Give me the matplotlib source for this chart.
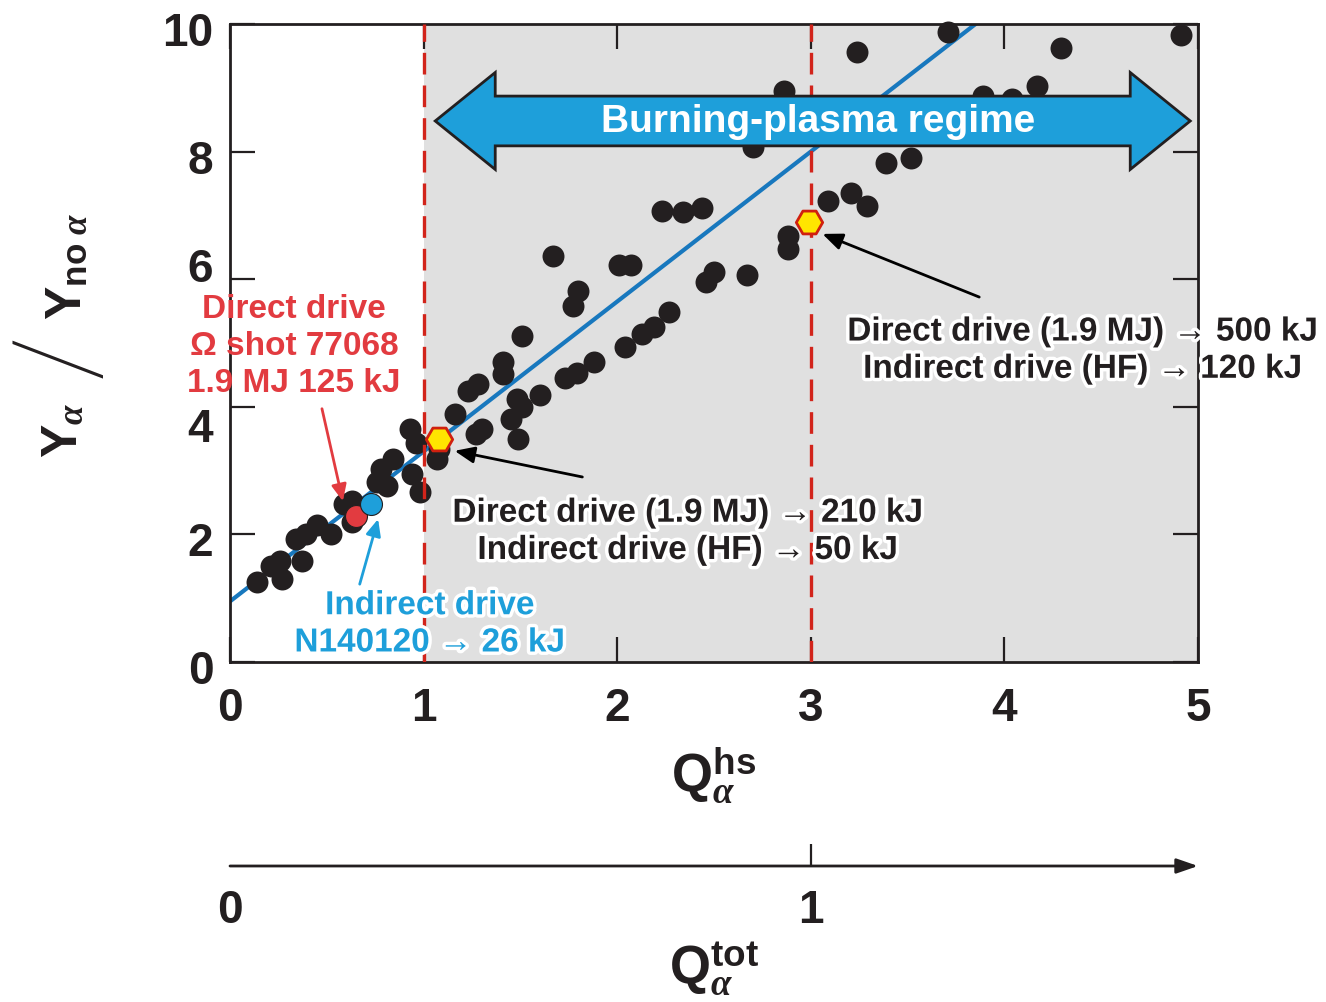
import matplotlib
matplotlib.use('Agg')
import matplotlib.pyplot as plt
import matplotlib.patheffects as pe
import matplotlib.transforms as mtransforms
from matplotlib.patches import Polygon
import numpy as np

plt.rcParams['font.family'] = ['Liberation Sans', 'DejaVu Sans']
plt.rcParams['font.weight'] = 'bold'
plt.rcParams['mathtext.fontset'] = 'custom'
plt.rcParams['mathtext.rm'] = 'Liberation Sans:bold'
plt.rcParams['mathtext.bf'] = 'Liberation Sans:bold'
plt.rcParams['mathtext.it'] = 'Liberation Serif:italic'

# ---------------- data ----------------
q_hs = [0.14, 0.21, 0.26, 0.27, 0.34, 0.37, 0.39, 0.45, 0.52, 0.59, 0.63, 0.63,
        0.76, 0.78, 0.81, 0.84, 0.93, 0.94, 0.98, 0.96, 1.07, 1.08,
        1.16, 1.23, 1.28, 1.27, 1.30, 1.41, 1.41, 1.51, 1.48, 1.51, 1.45, 1.49,
        1.60, 1.67, 1.73, 1.79, 1.88, 1.77, 1.80, 2.01, 2.07, 2.04, 2.13, 2.19,
        2.27, 2.23, 2.34, 2.44, 2.46, 2.50, 2.67,
        2.86, 2.70, 3.24, 3.71, 3.89, 4.04, 4.17, 4.29, 4.91, 3.09, 3.21, 3.29,
        3.39, 3.52, 2.88, 2.88]
y_ratio = [1.25, 1.51, 1.58, 1.30, 1.93, 1.59, 2.00, 2.14, 2.00, 2.48, 2.53, 2.19,
           2.82, 3.02, 2.76, 3.18, 3.65, 2.95, 2.66, 3.44, 3.18, 3.34,
           3.89, 4.25, 4.36, 3.57, 3.65, 4.70, 4.51, 5.11, 4.12, 4.00, 3.81, 3.50,
           4.18, 6.36, 4.45, 4.53, 4.70, 5.58, 5.82, 6.22, 6.22, 4.94, 5.14, 5.25,
           5.49, 7.07, 7.05, 7.12, 5.95, 6.11, 6.06,
           8.95, 8.07, 9.56, 9.87, 8.87, 8.82, 9.03, 9.62, 9.83, 7.23, 7.35, 7.15,
           7.82, 7.90, 6.68, 6.47]

omega_shot = (0.65, 2.29)        # Direct drive, Omega shot 77068
nif_shot = (0.73, 2.48)          # Indirect drive N140120
projected_q = [1.08, 2.99]       # hexagon projections
projected_y = [3.50, 6.90]

fit_intercept = 0.95
fit_slope = 2.35

regime_bounds = [1.0, 3.0]
xticks = [0, 1, 2, 3, 4, 5]
yticks = [0, 2, 4, 6, 8, 10]
qtot_per_qhs = 1.0 / 3.0
qtot_ticks = [0, 1]

# ---------------- styling ----------------
BLACK = '#231f20'
GREY = '#e0e0e0'
RED = '#d2241b'
TXT_RED = '#e23b40'
BLUE_LINE = '#1878be'
BLUE = '#1e9fda'
YELLOW = '#ffe500'

W, H = 1326, 1003
fig = plt.figure(figsize=(W / 100, H / 100), dpi=100)
ax = fig.add_axes([230 / W, 1 - 663 / H, 968 / W, 638 / H])
ax.set_xlim(0, 5)
ax.set_ylim(0, 10)

ax.axvspan(regime_bounds[0], 5, color=GREY, zorder=0, lw=0)

xx = np.array([0, 5])
ax.plot(xx, fit_intercept + fit_slope * xx, color=BLUE_LINE, lw=3, zorder=2,
        solid_capstyle='butt')

ax.scatter(q_hs, y_ratio, s=250, color=BLACK, zorder=3, lw=0, clip_on=False)

for xb in regime_bounds:
    ax.axvline(xb, color=RED, lw=2.4, dashes=(6.5, 3.3), zorder=4)

ax.scatter([omega_shot[0]], [omega_shot[1]], s=250, color=TXT_RED,
           edgecolors=BLACK, linewidths=0.8, zorder=5)
ax.scatter([nif_shot[0]], [nif_shot[1]], s=250, color=BLUE,
           edgecolors=BLACK, linewidths=0.8, zorder=5)
ax.scatter(projected_q, projected_y, s=360, marker='H', color=YELLOW,
           edgecolors='#d0200f', linewidths=2, zorder=6)

# ticks and spines
for sp in ax.spines.values():
    sp.set_linewidth(2)
    sp.set_color(BLACK)
ax.set_xticks(xticks)
ax.set_yticks(yticks)
ax.tick_params(direction='in', length=18, width=1.6, top=True, right=True,
               color=BLACK, labelcolor=BLACK, labelsize=33)
ax.tick_params(axis='x', pad=17)
ax.tick_params(axis='y', pad=12)
for lab in ax.get_xticklabels() + ax.get_yticklabels():
    lab.set_fontweight('bold')

# nudge y tick labels as in the original (6 up, 4 down, the rest slightly down)
label_shift = {6: 0.15, 4: -0.17}
for tick, val in zip(ax.yaxis.get_major_ticks(), yticks):
    dy = label_shift.get(val, -0.04)
    off = mtransforms.ScaledTranslation(0, dy, fig.dpi_scale_trans)
    tick.label1.set_transform(tick.label1.get_transform() + off)

ax.set_xlabel(r'$\mathbf{Q}_{\alpha}^{\mathbf{hs}}$', fontsize=38, labelpad=11,
              color=BLACK)

# y label: Y_alpha / Y_no alpha (rotated), with a long thin slash
fig.text(64 / W, 1 - 430 / H, r'$\mathbf{Y}_{\alpha}$', rotation=90,
         ha='center', va='center', fontsize=36, color=BLACK)
fig.text(62 / W, 1 - 356 / H, '/', rotation=90, ha='center', va='center',
         fontsize=84, fontweight=100, family=['Roboto', 'DejaVu Sans'],
         color=BLACK)
fig.text(68 / W, 1 - 266 / H, r'$\mathbf{Y}_{\mathbf{no}\ \alpha}$', rotation=90,
         ha='center', va='center', fontsize=36, color=BLACK)

# Burning-plasma double arrow
ar_x0, ar_x1 = 1.06, 4.96
ar_y = 8.48
body_h = 0.39
head_h = 0.76
head_len = 0.31
verts = [(ar_x0, ar_y), (ar_x0 + head_len, ar_y + head_h),
         (ar_x0 + head_len, ar_y + body_h), (ar_x1 - head_len, ar_y + body_h),
         (ar_x1 - head_len, ar_y + head_h), (ar_x1, ar_y),
         (ar_x1 - head_len, ar_y - head_h), (ar_x1 - head_len, ar_y - body_h),
         (ar_x0 + head_len, ar_y - body_h), (ar_x0 + head_len, ar_y - head_h)]
ax.add_patch(Polygon(verts, closed=True, fc=BLUE, ec=BLACK, lw=2, zorder=7,
                     joinstyle='miter'))
ax.text(3.04, ar_y, 'Burning-plasma regime', color='white', fontsize=28,
        fontweight='bold', ha='center', va='center', zorder=8)

# annotations
stroke = [pe.withStroke(linewidth=5, foreground='white')]
FS = 24
LS = 1.26
ax.text(0.33, 4.96, 'Direct drive\n\u03a9 shot 77068\n1.9 MJ 125 kJ',
        color=TXT_RED, fontsize=FS, fontweight='bold', ha='center', va='center',
        linespacing=LS, zorder=8, clip_on=False)
ax.annotate('', xy=(0.583, 2.52), xytext=(0.475, 3.97),
            arrowprops=dict(arrowstyle='-|>,head_length=1.0,head_width=0.45',
                            color=TXT_RED, lw=2, shrinkA=0, shrinkB=0), zorder=8)

ax.text(1.033, 0.59, 'Indirect drive\nN140120 \u2192 26 kJ', color=BLUE,
        fontsize=FS, fontweight='bold', ha='center', va='center',
        linespacing=LS, zorder=8, path_effects=stroke)
ax.annotate('', xy=(0.765, 2.24), xytext=(0.67, 1.22),
            arrowprops=dict(arrowstyle='-|>,head_length=1.0,head_width=0.45',
                            color=BLUE, lw=2, shrinkA=0, shrinkB=0), zorder=8)

ax.text(2.366, 2.04, 'Direct drive (1.9 MJ) \u2192 210 kJ\nIndirect drive (HF) \u2192 50 kJ',
        color=BLACK, fontsize=FS, fontweight='bold', ha='center', va='center',
        linespacing=LS, zorder=8, path_effects=stroke)
ax.annotate('', xy=(1.16, 3.31), xytext=(1.82, 2.90),
            arrowprops=dict(arrowstyle='-|>,head_length=1.2,head_width=0.5',
                            color='black', lw=2, shrinkA=0, shrinkB=0), zorder=8)

ax.text(4.406, 4.88, 'Direct drive (1.9 MJ) \u2192 500 kJ\nIndirect drive (HF) \u2192 120 kJ',
        color=BLACK, fontsize=FS, fontweight='bold', ha='center', va='center',
        linespacing=LS, zorder=8, path_effects=stroke, clip_on=False)
ax.annotate('', xy=(3.06, 6.71), xytext=(3.87, 5.72),
            arrowprops=dict(arrowstyle='-|>,head_length=1.2,head_width=0.5',
                            color='black', lw=2, shrinkA=0, shrinkB=0), zorder=8)

# secondary Q_tot axis
ax2 = fig.add_axes([230 / W, 1 - 867 / H, 968 / W, 0.0005])
ax2.set_xlim(0, 5 * qtot_per_qhs)
ax2.set_ylim(0, 1)
for sp in ax2.spines.values():
    sp.set_visible(False)
ax2.patch.set_visible(False)
ax2.set_yticks([])
ax2.set_xticks(qtot_ticks)
ax2.tick_params(axis='x', length=0, pad=16, labelsize=33, labelcolor=BLACK)
for lab in ax2.get_xticklabels():
    lab.set_fontweight('bold')
ax2.annotate('', xy=(1, 0), xycoords='axes fraction', xytext=(0, 0),
             textcoords='axes fraction',
             arrowprops=dict(arrowstyle='-|>,head_length=1.3,head_width=0.45',
                             color=BLACK, lw=2, shrinkA=0, shrinkB=0))
ax2.plot([1], [0], marker=2, ms=16, mew=1.6, color=BLACK, clip_on=False)
ax2.set_xlabel(r'$\mathbf{Q}_{\alpha}^{\mathbf{tot}}$', fontsize=38, labelpad=5,
               color=BLACK)

fig.savefig('out.png', dpi=100)
